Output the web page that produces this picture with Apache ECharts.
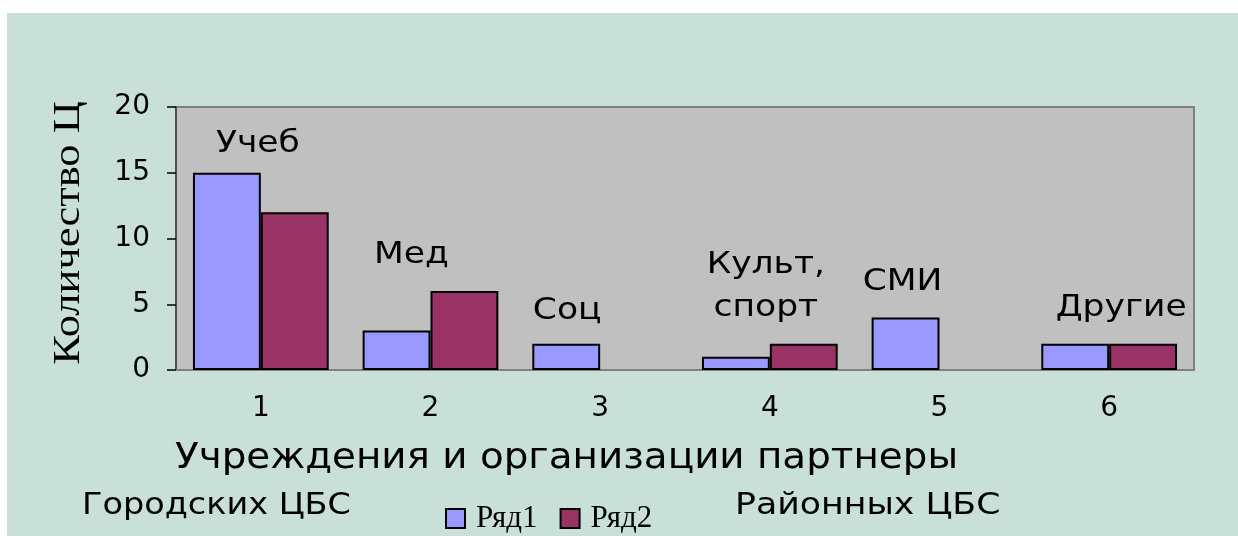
<!DOCTYPE html>
<html><head><meta charset="utf-8">
<script src="https://cdn.jsdelivr.net/npm/echarts@6/dist/echarts.min.js"></script>
<style>html,body{margin:0;padding:0;background:#fff}#c{position:absolute;left:7px;top:13px;width:1231px;height:523px}</style>
</head><body><div id="c"></div>
<script>
const categories = ['1','2','3','4','5','6'];
const series1 = [15, 3, 2, 1, 4, 2];
const series2 = [12, 6, 0, 2, 0, 2];
const seriesNames = ['Ряд1','Ряд2'];
const yTicks = {min:0, max:20, interval:5};
const annotations = ['Учеб','Мед','Соц','Культ,\nспорт','СМИ','Другие'];
const annotationValues = [17.2, 8.7, 4.5, 6.3, 6.65, 4.7];
const annotationOffsets = [-3, -19, -33, -4, -37, 12];
const xTitle = 'Учреждения и организации партнеры';
const yTitle = 'Количество Ц';
const leftCaption = 'Городских ЦБС';
const rightCaption = 'Районных ЦБС';

const chart = echarts.init(document.getElementById('c'));
const sans = 'DejaVu Sans';
const serif = 'Liberation Serif';
const noZero = arr => arr.map(v => v === 0 ? '-' : v);
chart.setOption({
  backgroundColor: '#c9e0d9',
  animation: false,
  grid: {left: 169, right: 44, top: 94, bottom: 166, show: true, backgroundColor: '#c0c0c0', borderColor: '#808080', borderWidth: 2},
  legend: {
    data: seriesNames, left: 438, top: 490, padding: 0, icon: 'rect', itemWidth: 19, itemHeight: 19, itemGap: 22,
    textStyle: {fontFamily: serif, fontSize: 31, color: '#000', padding: [0,0,0,6]}
  },
  xAxis: {
    type: 'category', data: categories,
    axisLine: {lineStyle: {color: '#808080', width: 2}},
    axisTick: {show: false},
    axisLabel: {fontFamily: sans, fontSize: 28, color: '#000', margin: 25}
  },
  yAxis: {
    type: 'value', min: yTicks.min, max: yTicks.max, interval: yTicks.interval,
    splitLine: {show: false},
    axisLine: {show: true, lineStyle: {color: '#505050', width: 2}},
    axisTick: {show: true, length: 9, lineStyle: {color: '#000', width: 1.5}},
    axisLabel: {fontFamily: sans, fontSize: 28, color: '#000', margin: 26}
  },
  series: [
    {name: seriesNames[0], type: 'bar', data: noZero(series1), barGap: '0%', barCategoryGap: '20%',
     itemStyle: {color: '#9999ff', borderColor: '#000', borderWidth: 2}},
    {name: seriesNames[1], type: 'bar', data: noZero(series2), barGap: '0%', barCategoryGap: '20%',
     itemStyle: {color: '#993366', borderColor: '#000', borderWidth: 2}}
  ]
});

const g = [
  {type: 'text', x: 168, y: 446, scaleX: 1.11, style: {text: xTitle, font: '35px "DejaVu Sans"', fill: '#000', verticalAlign: 'middle'}},
  {type: 'text', x: 75, y: 493, scaleX: 1.08, style: {text: leftCaption, font: '31px "DejaVu Sans"', fill: '#000', verticalAlign: 'middle'}},
  {type: 'text', x: 728, y: 493, scaleX: 1.12, style: {text: rightCaption, font: '31px "DejaVu Sans"', fill: '#000', verticalAlign: 'middle'}},
  {type: 'text', x: 62, y: 220, rotation: Math.PI/2, scaleX: 1.17, style: {text: yTitle, font: '38px "Liberation Serif"', fill: '#000', align: 'center', verticalAlign: 'middle'}}
];
annotations.forEach((t, i) => {
  const p = chart.convertToPixel({xAxisIndex: 0, yAxisIndex: 0}, [i, annotationValues[i]]);
  g.push({type: 'text', x: p[0] + annotationOffsets[i], y: p[1], scaleX: 1.15,
    style: {text: t, font: '30px "DejaVu Sans"', fill: '#000', align: 'center', verticalAlign: 'middle', lineHeight: 43}});
});
chart.setOption({graphic: g});
</script></body></html>
